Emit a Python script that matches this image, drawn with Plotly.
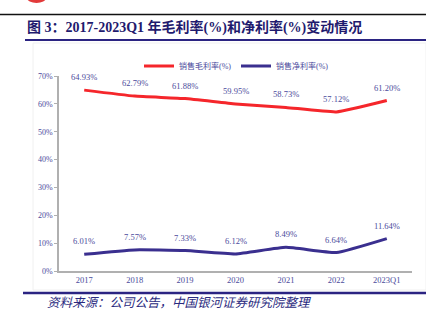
import plotly.graph_objects as go

categories = ["2017", "2018", "2019", "2020", "2021", "2022", "2023Q1"]
gross_margin = [64.93, 62.79, 61.88, 59.95, 58.73, 57.12, 61.20]
net_margin = [6.01, 7.57, 7.33, 6.12, 8.49, 6.64, 11.64]
gross_labels = ["64.93%", "62.79%", "61.88%", "59.95%", "58.73%", "57.12%", "61.20%"]
net_labels = ["6.01%", "7.57%", "7.33%", "6.12%", "8.49%", "6.64%", "11.64%"]
y_ticks = [0, 10, 20, 30, 40, 50, 60, 70]
y_tick_labels = ["0%", "10%", "20%", "30%", "40%", "50%", "60%", "70%"]

RED = "#f5262b"
NAVY = "#3a2f8f"
LABEL = "#4b4b9c"
SERIF = "Liberation Serif, Noto Sans CJK SC, serif"

W, H = 426, 323
L, R, T, B = 59, 14, 76, 52
pw, ph = W - L - R, H - T - B


def px(xp):
    return (xp - L) / pw


def py(yp):
    return (H - B - yp) / ph


fig = go.Figure()
fig.add_trace(go.Scatter(
    x=categories, y=gross_margin, mode="lines", name="销售毛利率(%)",
    line=dict(color=RED, width=3, shape="spline", smoothing=0.4), legend="legend",
))
fig.add_trace(go.Scatter(
    x=categories, y=net_margin, mode="lines", name="销售净利率(%)",
    line=dict(color=NAVY, width=3, shape="spline", smoothing=0.4), legend="legend2",
))

annotations = []
for i, (v, t) in enumerate(zip(gross_margin, gross_labels)):
    annotations.append(dict(x=i, y=v, text=t, showarrow=False, yshift=13,
                            font=dict(family=SERIF, size=8.5, color=LABEL)))
for i, (v, t) in enumerate(zip(net_margin, net_labels)):
    annotations.append(dict(x=i, y=v, text=t, showarrow=False, yshift=13,
                            font=dict(family=SERIF, size=8.5, color=LABEL)))

annotations.append(dict(
    xref="paper", yref="paper", x=px(25), y=py(27), xanchor="left", yanchor="middle",
    text="<b>图 3：2017-2023Q1 年毛利率(%)和净利率(%)变动情况</b>", showarrow=False,
    font=dict(family=SERIF, size=14, color="#1f1a6e")))
annotations.append(dict(
    xref="paper", yref="paper", x=px(45), y=py(303), xanchor="left", yanchor="middle",
    text="<i>资料来源：公司公告，中国银河证券研究院整理</i>", showarrow=False,
    font=dict(family=SERIF, size=12.5, color="#2a2a7e")))

shapes = [
    dict(type="line", xref="paper", yref="paper", x0=px(0), x1=px(426), y0=py(14.5), y1=py(14.5),
         line=dict(color="#111111", width=1.5)),
    dict(type="line", xref="paper", yref="paper", x0=px(25), x1=px(426), y0=py(40), y1=py(40),
         line=dict(color="#2b2482", width=2)),
    dict(type="line", xref="paper", yref="paper", x0=px(23), x1=px(426), y0=py(293), y1=py(293),
         line=dict(color="#2b2482", width=2.5)),
    dict(type="rect", xref="paper", yref="paper", x0=px(33), x1=px(426), y0=py(43), y1=py(290),
         line=dict(color="#f0f0f0", width=1)),
    dict(type="circle", xref="paper", yref="paper", x0=px(27), x1=px(46), y0=py(-7), y1=py(3),
         fillcolor="#e23a3a", line=dict(width=0)),
]

legend_style = dict(orientation="h", yanchor="middle", xanchor="left", itemwidth=30,
                    font=dict(family=SERIF, size=8, color=LABEL),
                    bgcolor="rgba(0,0,0,0)")

fig.update_layout(
    width=W, height=H,
    margin=dict(l=L, r=R, t=T, b=B, autoexpand=False),
    paper_bgcolor="white", plot_bgcolor="white",
    showlegend=True,
    legend=dict(x=px(139), y=py(66), **legend_style),
    legend2=dict(x=px(236), y=py(66), **legend_style),
    annotations=annotations,
    shapes=shapes,
    xaxis=dict(type="category", range=[-0.5, 6.5], showgrid=False, zeroline=False,
               showline=True, linecolor="#b0b0b0", linewidth=1.5, ticks="",
               tickfont=dict(family=SERIF, size=8.5, color=LABEL)),
    yaxis=dict(range=[0, 70], tickvals=y_ticks, ticktext=y_tick_labels, showgrid=False,
               zeroline=False, showline=True, linecolor="#b0b0b0", linewidth=1.5,
               ticks="outside", ticklen=3, tickcolor="#b0b0b0",
               tickfont=dict(family=SERIF, size=8, color=LABEL)),
)

fig.write_html("out.html")
